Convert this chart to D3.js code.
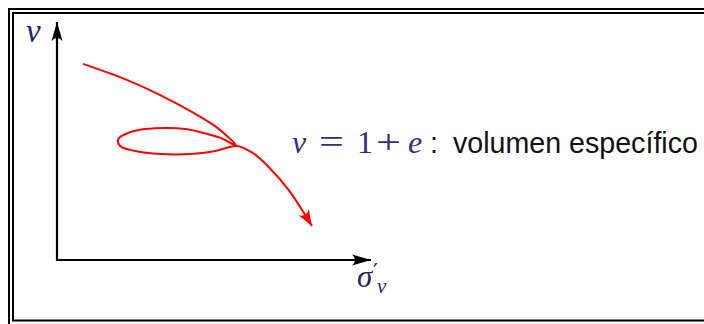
<!DOCTYPE html>
<html>
<head>
<meta charset="utf-8">
<script src="https://cdn.jsdelivr.net/npm/d3@7"></script>
<style>
  html, body { margin: 0; padding: 0; background: #fff; }
  svg { display: block; }
</style>
</head>
<body>
<svg id="chart" width="704" height="324"></svg>
<script>
// Compression path in the (sigma'_v, v) plane: virgin loading,
// an unload/reload loop, then continued loading (arbitrary units 0..100).
const loadingSigma = [8.3, 22.4, 32.9, 43.5, 51.1, 57.2];
const loadingV     = [82.4, 75.6, 69.3, 61.8, 55.5, 47.9];

const loopSigma = [52.1, 46.6, 40.9, 35.1, 28.1, 22.7, 19.5, 20.1, 24.9, 32.9, 42.5, 50.5, 57.2];
const loopV     = [51.3, 53.4, 55.0, 55.5, 55.0, 53.4, 50.8, 47.9, 45.8, 44.5, 44.5, 45.8, 47.9];

const reloadSigma = [62.3, 67.4, 73.8, 81.2];
const reloadV     = [45.0, 39.1, 29.4, 14.3];

const axisDomain = [0, 100];
const yAxisLabel = "v";
const equationParts = ["v", "=", "1", "+", "e", ":"];
const equationText = "volumen específico";

const svg = d3.select("#chart");
const W = 704, H = 324;

// double frame
svg.append("rect").attr("x", 9).attr("y", 9).attr("width", W + 20).attr("height", H + 20)
  .attr("fill", "none").attr("stroke", "#000").attr("stroke-width", 2);
svg.append("rect").attr("x", 13).attr("y", 13).attr("width", W + 20).attr("height", 307.5)
  .attr("fill", "none").attr("stroke", "#000").attr("stroke-width", 2);

const x = d3.scaleLinear().domain(axisDomain).range([57, 371]);
const y = d3.scaleLinear().domain(axisDomain).range([260, 22]);

const defs = svg.append("defs");
function arrow(id, color, len, half, notch) {
  defs.append("marker")
    .attr("id", id)
    .attr("markerUnits", "userSpaceOnUse")
    .attr("viewBox", `${-len - 1} ${-half - 1} ${len + 2} ${2 * half + 2}`)
    .attr("markerWidth", len + 2).attr("markerHeight", 2 * half + 2)
    .attr("refX", 0).attr("refY", 0)
    .attr("orient", "auto")
    .append("path")
    .attr("d", `M0,0 L${-len},${-half} Q${-len + notch},0 ${-len},${half} Z`)
    .attr("fill", color);
}
arrow("axisHead", "#000", 19, 5.5, 6);
arrow("curveHead", "#ff0000", 16, 6, 5.5);

// axes
svg.append("line")
  .attr("x1", x(0)).attr("y1", y(0) + 1).attr("x2", x(0)).attr("y2", y(100))
  .attr("stroke", "#000").attr("stroke-width", 2.2)
  .attr("marker-end", "url(#axisHead)");
svg.append("line")
  .attr("x1", x(0) - 1).attr("y1", y(0)).attr("x2", x(100)).attr("y2", y(0))
  .attr("stroke", "#000").attr("stroke-width", 2.2)
  .attr("marker-end", "url(#axisHead)");

// compression path
const pts = []
  .concat(loadingSigma.map((s, i) => [s, loadingV[i]]))
  .concat(loopSigma.map((s, i) => [s, loopV[i]]))
  .concat(reloadSigma.map((s, i) => [s, reloadV[i]]));

const line = d3.line()
  .x(d => x(d[0])).y(d => y(d[1]))
  .curve(d3.curveCatmullRom.alpha(0.5));

svg.append("path")
  .datum(pts)
  .attr("d", line)
  .attr("fill", "none")
  .attr("stroke", "#ff0000")
  .attr("stroke-width", 2)
  .attr("marker-end", "url(#curveHead)");

// axis labels
const mathColor = "#26265a";
const serif = "'Liberation Serif', serif";
svg.append("text")
  .attr("x", 26).attr("y", 42)
  .attr("font-family", serif)
  .attr("font-style", "italic")
  .attr("font-size", 33)
  .attr("fill", mathColor)
  .text(yAxisLabel);

svg.append("text")
  .attr("x", 357).attr("y", 287)
  .attr("font-family", serif).attr("font-style", "italic")
  .attr("font-size", 31).attr("fill", mathColor)
  .text("σ");
svg.append("text")
  .attr("x", 373).attr("y", 279)
  .attr("font-family", "'DejaVu Sans', sans-serif")
  .attr("font-size", 22).attr("fill", mathColor)
  .text("′");
svg.append("text")
  .attr("x", 377).attr("y", 293)
  .attr("font-family", serif).attr("font-style", "italic")
  .attr("font-size", 21).attr("fill", mathColor)
  .text("v");

// equation
const eqColor = "#30307e";
const eqX = [292, 319, 357, 376, 408];
equationParts.slice(0, 5).forEach((t, i) => {
  const isOp = (t === "=" || t === "+");
  const el = svg.append("text")
    .attr("y", 153)
    .attr("font-family", serif)
    .attr("font-style", (t === "v" || t === "e") ? "italic" : "normal")
    .attr("font-size", isOp ? 34 : 32)
    .attr("fill", eqColor)
    .text(t);
  if (isOp) {
    // stretch operators horizontally to the wide math-font proportions
    el.attr("x", 0).attr("transform", `translate(${eqX[i]},0) scale(1.3,1)`);
  } else {
    el.attr("x", eqX[i]);
  }
});
svg.append("text")
  .attr("x", 430).attr("y", 153)
  .attr("font-family", "'Liberation Sans', sans-serif")
  .attr("font-size", 29)
  .attr("fill", "#111")
  .text(equationParts[5]);

const desc = svg.append("text")
  .attr("x", 453).attr("y", 153)
  .attr("font-family", "'Liberation Sans', sans-serif")
  .attr("font-size", 28.5)
  .attr("fill", "#111")
  .text(equationText);
const targetW = 245;
const w = desc.node().getComputedTextLength();
if (w > 0) desc.attr("font-size", 28.5 * targetW / w);
</script>
</body>
</html>
